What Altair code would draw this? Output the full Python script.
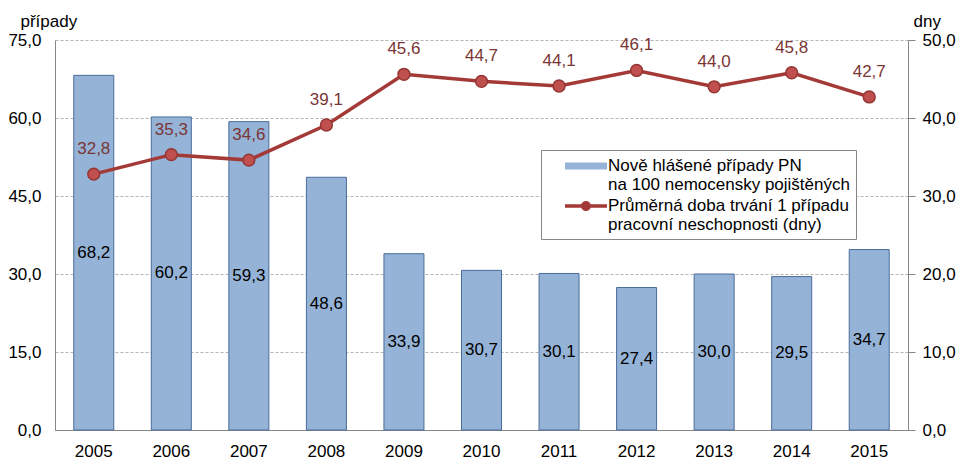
import altair as alt
import pandas as pd

years = ["2005", "2006", "2007", "2008", "2009", "2010", "2011", "2012", "2013", "2014", "2015"]
cases = [68.2, 60.2, 59.3, 48.6, 33.9, 30.7, 30.1, 27.4, 30.0, 29.5, 34.7]
duration = [32.8, 35.3, 34.6, 39.1, 45.6, 44.7, 44.1, 46.1, 44.0, 45.8, 42.7]
series = [
    "Nově hlášené případy PN|na 100 nemocensky pojištěných",
    "Průměrná doba trvání 1 případu|pracovní neschopnosti (dny)",
]
left_ticks = [0, 15, 30, 45, 60, 75]
right_ticks = [0, 10, 20, 30, 40, 50]

df = pd.DataFrame({"year": years, "cases": cases, "duration": duration})
leg_df = pd.DataFrame({"year": years[:2], "series": series, "v": [None, None]})

FONT = "Liberation Sans"
FS = 17
AXC = "#868686"
comma = "replace(format(datum.value, '.1f'), '.', ',')"

x = alt.X(
    "year:N",
    scale=alt.Scale(paddingInner=0.484, paddingOuter=0.242),
    axis=alt.Axis(title=None, labelAngle=0, tickSize=0, domainColor=AXC,
                  labelPadding=13, labelFontSize=FS, labelFont=FONT, labelColor="#000"),
)

left_axis = alt.Axis(
    values=left_ticks, labelExpr=comma, title="případy", titleAngle=0,
    titleX=-35, titleY=-14, titleAlign="left", titleBaseline="alphabetic",
    titleFont=FONT, titleFontSize=FS, titleFontWeight="normal", titleColor="#000",
    grid=True, gridDash=[3, 2], gridColor="#B4B4B4", domainColor=AXC,
    tickSize=0, labelPadding=14, labelFontSize=FS, labelFont=FONT, labelColor="#000",
)
right_axis = alt.Axis(
    values=right_ticks, labelExpr=comma, title="dny", titleAngle=0,
    titleX=5, titleY=-14, titleAlign="left", titleBaseline="alphabetic",
    titleFont=FONT, titleFontSize=FS, titleFontWeight="normal", titleColor="#000",
    grid=False, domainColor=AXC, tickColor=AXC, tickSize=7, labelPadding=7,
    labelFontSize=FS, labelFont=FONT, labelColor="#000",
)
yl_scale = alt.Scale(domain=[0, 75])
yr_scale = alt.Scale(domain=[0, 50])

base = alt.Chart(df)
bars = base.mark_bar(color="#95B3D7", stroke="#4A6C9B", strokeWidth=1).encode(
    x=x, y=alt.Y("cases:Q", scale=yl_scale, axis=left_axis)
)
bar_text = base.transform_calculate(
    mid="datum.cases / 2", lbl="replace(format(datum.cases, '.1f'), '.', ',')"
).mark_text(fontSize=FS, font=FONT, color="#000").encode(
    x=x, y=alt.Y("mid:Q", scale=yl_scale, axis=left_axis), text="lbl:N"
)
left = alt.layer(bars, bar_text)

yr = alt.Y("duration:Q", scale=yr_scale, axis=right_axis)
line = base.mark_line(color="#A33A37", strokeWidth=3.5).encode(x=x, y=yr)
pts = base.mark_point(filled=True, fill="#C0504D", stroke="#943634",
                      strokeWidth=1.5, size=140, opacity=1).encode(x=x, y=yr)
line_text = base.transform_calculate(
    lbl="replace(format(datum.duration, '.1f'), '.', ',')"
).mark_text(dy=-25, fontSize=FS, font=FONT, color="#7A3535").encode(
    x=x, y=yr, text="lbl:N"
)

rect_path = "M-2.1,-0.35H2.1V0.35H-2.1Z"
line_path = ("M-2.1,-0.17H2.1V0.17H-2.1Z "
             "M0.5,0A0.5,0.5 0 1,1 -0.5,0A0.5,0.5 0 1,1 0.5,0Z")

leg = alt.Legend(
    title=None, orient="none", legendX=486, legendY=110,
    labelExpr="split(datum.label, '|')", symbolSize=400,
    strokeColor=AXC, fillColor="white", padding=6,
    labelFontSize=FS, labelFont=FONT, labelColor="#000", labelLimit=500,
    symbolOffset=29, labelOffset=12, rowPadding=3, symbolStrokeWidth=0,
    symbolOpacity=1, labelBaseline="middle",
)
legend_layer = alt.Chart(leg_df).mark_point(filled=True, opacity=1).encode(
    x=x,
    y=alt.Y("v:Q", scale=yr_scale, axis=right_axis),
    color=alt.Color("series:N", scale=alt.Scale(domain=series, range=["#95B3D7", "#A33A37"]), legend=leg),
    shape=alt.Shape("series:N", scale=alt.Scale(domain=series, range=[rect_path, line_path]), legend=leg),
)
right = alt.layer(line, pts, line_text, legend_layer)

chart = alt.layer(left, right).resolve_scale(y="independent").properties(
    width=853, height=390,
    autosize=alt.AutoSizeParams(type="none"),
    padding={"left": 47, "top": 32, "right": 59, "bottom": 29},
).configure_view(stroke=None)

chart.save("out.html", embed_options={"renderer": "svg", "actions": False})
